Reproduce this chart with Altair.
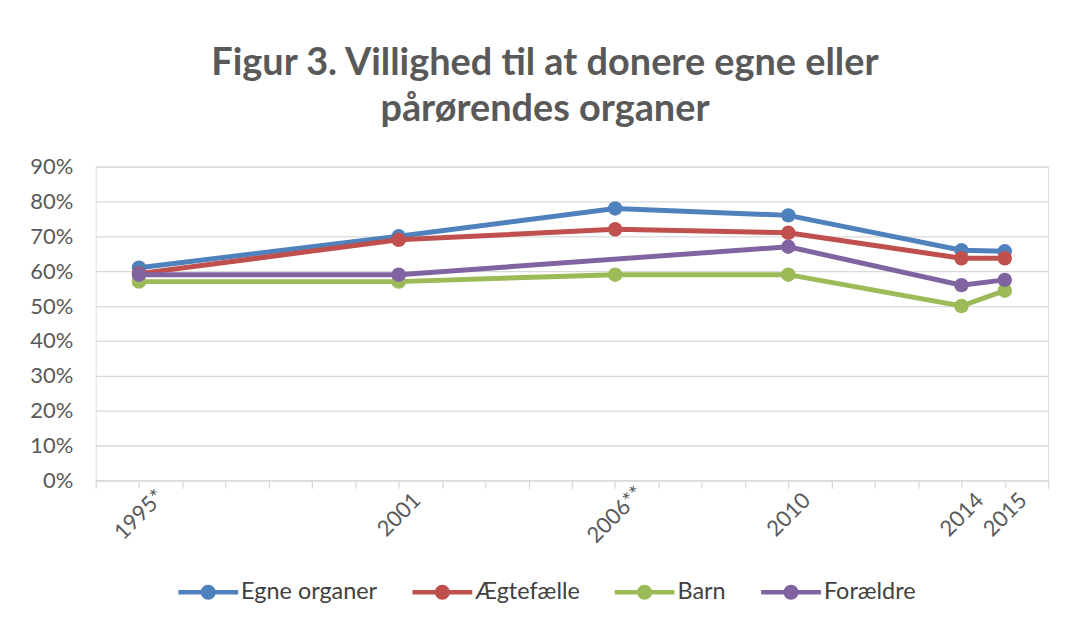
import altair as alt
import pandas as pd

years = [1995, 2001, 2006, 2010, 2014, 2015]
series_names = ["Egne organer", "Ægtefælle", "Barn", "Forældre"]
egne_organer = [61.0, 70.0, 78.0, 76.0, 66.0, 65.7]
aegtefaelle = [59.3, 69.0, 72.0, 71.0, 63.7, 63.7]
barn = [57.0, 57.0, 59.0, 59.0, 50.0, 54.4]
foraeldre = [59.0, 59.0, None, 67.0, 56.0, 57.5]
colors = ["#4F81BD", "#C0504D", "#9BBB59", "#8064A2"]
tick_years = list(range(1994, 2017))
label_map = {1995: "1995*", 2001: "2001", 2006: "2006**", 2010: "2010", 2014: "2014", 2015: "2015"}

rows = []
for name, vals in zip(series_names, [egne_organer, aegtefaelle, barn, foraeldre]):
    for y, v in zip(years, vals):
        if v is not None:
            rows.append({"Year": y, "Serie": name, "Value": v / 100.0})
df = pd.DataFrame(rows)

label_expr = " : ".join(
    [f"datum.value == {k} ? '{v}'" for k, v in label_map.items()]
) + " : ''"

FONT = "Lato"
GRAY = "#595959"
GRID = "#d9d9d9"

legend_path = (
    "M -1 -0.075 L 1 -0.075 L 1 0.075 L -1 0.075 Z "
    "M 0.25 0 A 0.25 0.25 0 1 1 -0.25 0 A 0.25 0.25 0 1 1 0.25 0 Z"
)

x_enc = alt.X(
    "Year:Q",
    scale=alt.Scale(domain=[1994, 2016], nice=False, zero=False),
    axis=alt.Axis(
        title=None,
        values=tick_years,
        labelExpr=label_expr,
        labelAngle=-45,
        labelAlign="center",
        labelBaseline="middle",
        labelPadding=26,
        labelFontSize=22,
        labelColor=GRAY,
        labelFont=FONT,
        tickSize=8,
        tickColor=GRID,
        tickWidth=1.3,
        domainColor=GRID,
        domainWidth=1.3,
        grid=False,
        labelOverlap=False,
        labelFlush=False,
    ),
)
y_enc = alt.Y(
    "Value:Q",
    scale=alt.Scale(domain=[0, 0.9], nice=False),
    axis=alt.Axis(
        title=None,
        values=[i / 10 for i in range(10)],
        format=".0%",
        labelFontSize=22,
        labelColor=GRAY,
        labelFont=FONT,
        labelPadding=23,
        ticks=False,
        domain=False,
        gridColor=GRID,
        gridWidth=1.3,
    ),
)
color_scale = alt.Scale(domain=series_names, range=colors)

base = alt.Chart(df)

lines = base.mark_line(strokeWidth=5).encode(
    x=x_enc,
    y=y_enc,
    color=alt.Color("Serie:N", sort=series_names, scale=color_scale, legend=None),
    order=alt.Order("Year:Q"),
)

points = base.mark_point(filled=True, size=210, opacity=1).encode(
    x=x_enc,
    y=y_enc,
    color=alt.Color(
        "Serie:N",
        sort=series_names,
        scale=color_scale,
        legend=alt.Legend(
            title=None,
            orient="none",
            direction="horizontal",
            legendX=83,
            legendY=397,
            symbolType=legend_path,
            symbolSize=3600,
            symbolStrokeWidth=0,
            symbolOpacity=1,
            labelFontSize=23.5,
            labelFont=FONT,
            labelColor="#404040",
            labelOffset=3,
            columnPadding=35,
            labelLimit=300,
        ),
    ),
)

chart = (
    alt.layer(lines, points)
    .resolve_legend(color="independent")
    .properties(
        width=956,
        height=315,
        autosize=alt.AutoSizeParams(type="none"),
        padding={"left": 88, "top": 158, "right": 15, "bottom": 145},
        title=alt.TitleParams(
            text=["Figur 3. Villighed til at donere egne eller", "pårørendes organer"],
            font=FONT,
            fontSize=38,
            fontWeight="bold",
            color=GRAY,
            anchor="middle",
            lineHeight=46,
            offset=27,
            dx=-27,
        ),
    )
    .configure_view(stroke=None)
    .configure(background="white")
)

chart.save("out.html", embed_options={"renderer": "svg", "actions": False})
